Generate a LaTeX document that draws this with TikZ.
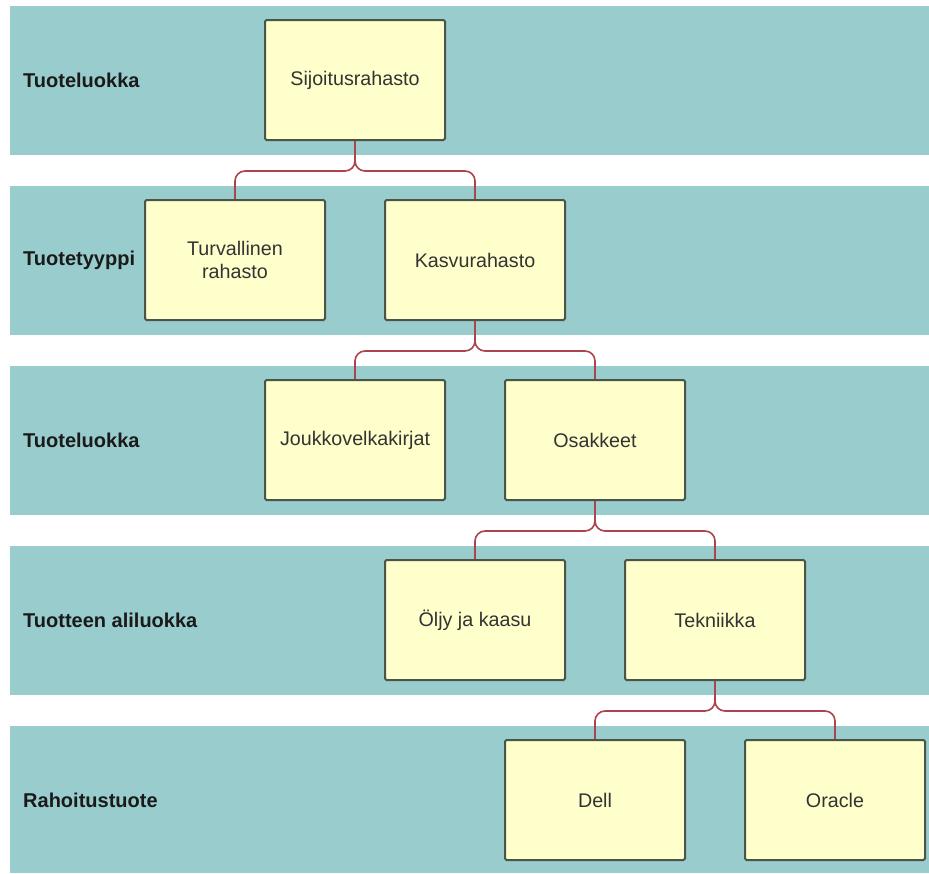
\documentclass[tikz,border=0pt]{standalone}
\usepackage{fontspec}
\setmainfont{Liberation Sans}
\definecolor{bandcol}{RGB}{153,205,205}
\definecolor{boxfill}{RGB}{255,255,204}
\definecolor{boxline}{RGB}{74,84,72}
\definecolor{linkcol}{RGB}{172,68,78}
\definecolor{boxtext}{RGB}{51,51,51}
\definecolor{labtext}{RGB}{26,26,26}
\begin{document}
\begin{tikzpicture}[x=1pt,y=-1pt,
  band/.style={fill=bandcol,draw=none},
  bandlabel/.style={anchor=west,inner sep=0pt,text=labtext,font=\fontsize{20}{23}\selectfont\bfseries},
  itembox/.style={draw=boxline,line width=2pt,fill=boxfill,rounded corners=1.5pt,minimum width=180pt,minimum height=120pt,inner sep=0pt,align=center,text=boxtext,font=\fontsize{19.7}{23}\selectfont},
  link/.style={draw=linkcol,line width=1.6pt,rounded corners=10pt}]
\useasboundingbox (0,0) rectangle (929,873);
\fill[white] (0,0) rectangle (929,873);
% bands
\foreach \t/\b in {6/155,186/335,366/515,546/695,726/873}
  \path[band] (10,\t) rectangle (929,\b);
% band labels
\node[bandlabel] (l1) at (23,80) {Tuoteluokka};
\node[bandlabel] (l2) at (23,260) {Tuotetyyppi};
\node[bandlabel] (l3) at (23,440) {Tuoteluokka};
\node[bandlabel] (l4) at (23,620) {Tuotteen aliluokka};
\node[bandlabel] (l5) at (23,800) {Rahoitustuote};
% boxes
\node[itembox] (sij) at (355,80) {Sijoitusrahasto};
\node[itembox] (tur) at (235,260) {Turvallinen\\rahasto};
\node[itembox] (kas) at (475,260) {Kasvurahasto};
\node[itembox] (jou) at (355,440) {Joukkovelkakirjat};
\node[itembox] (osa) at (595,440) {Osakkeet};
\node[itembox] (olj) at (475,620) {Öljy ja kaasu};
\node[itembox] (tek) at (715,620) {Tekniikka};
\node[itembox] (del) at (595,800) {Dell};
\node[itembox] (ora) at (835,800) {Oracle};
% connectors
\foreach \p/\c/\y in {sij/tur/171,sij/kas/171,kas/jou/351,kas/osa/351,osa/olj/531,osa/tek/531,tek/del/711,tek/ora/711}
  \draw[link] (\p.south) -- (\p.south |- 0,\y) -- (\c.north |- 0,\y) -- (\c.north);
\end{tikzpicture}
\end{document}
